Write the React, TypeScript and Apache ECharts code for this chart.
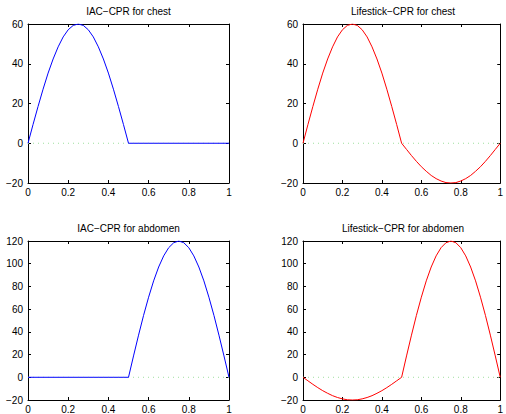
import React, { useEffect, useRef } from "react";
import * as echarts from "echarts";

const titles = [
  "IAC−CPR for chest",
  "Lifestick−CPR for chest",
  "IAC−CPR for abdomen",
  "Lifestick−CPR for abdomen",
];

const times = [
  0, 0.025, 0.05, 0.075, 0.1, 0.125, 0.15, 0.175, 0.2, 0.225, 0.25, 0.275, 0.3, 0.325, 0.35, 0.375, 0.4,
  0.425, 0.45, 0.475, 0.5, 0.525, 0.55, 0.575, 0.6, 0.625, 0.65, 0.675, 0.7, 0.725, 0.75, 0.775, 0.8,
  0.825, 0.85, 0.875, 0.9, 0.925, 0.95, 0.975, 1,
];

const chestIAC = [
  0, 9.4, 18.5, 27.2, 35.3, 42.4, 48.5, 53.5, 57.1, 59.3, 60, 59.3, 57.1, 53.5, 48.5, 42.4, 35.3, 27.2,
  18.5, 9.4, 0, 0, 0, 0, 0, 0, 0, 0, 0, 0, 0, 0, 0, 0, 0, 0, 0, 0, 0, 0, 0,
];

const chestLifestick = [
  0, 9.4, 18.5, 27.2, 35.3, 42.4, 48.5, 53.5, 57.1, 59.3, 60, 59.3, 57.1, 53.5, 48.5, 42.4, 35.3, 27.2,
  18.5, 9.4, 0, -3.1, -6.2, -9.1, -11.8, -14.1, -16.2, -17.8, -19.0, -19.8, -20, -19.8, -19.0, -17.8,
  -16.2, -14.1, -11.8, -9.1, -6.2, -3.1, 0,
];

const abdomenIAC = [
  0, 0, 0, 0, 0, 0, 0, 0, 0, 0, 0, 0, 0, 0, 0, 0, 0, 0, 0, 0, 0, 18.8, 37.1, 54.5, 70.5, 84.9, 97.1,
  106.9, 114.1, 118.5, 120, 118.5, 114.1, 106.9, 97.1, 84.9, 70.5, 54.5, 37.1, 18.8, 0,
];

const abdomenLifestick = [
  0, -3.1, -6.2, -9.1, -11.8, -14.1, -16.2, -17.8, -19.0, -19.8, -20, -19.8, -19.0, -17.8, -16.2, -14.1,
  -11.8, -9.1, -6.2, -3.1, 0, 18.8, 37.1, 54.5, 70.5, 84.9, 97.1, 106.9, 114.1, 118.5, 120, 118.5, 114.1,
  106.9, 97.1, 84.9, 70.5, 54.5, 37.1, 18.8, 0,
];

const seriesValues = [chestIAC, chestLifestick, abdomenIAC, abdomenLifestick];
const seriesColors = ["#0000ff", "#ff0000", "#0000ff", "#ff0000"];
const yRanges = [
  [-20, 60],
  [-20, 60],
  [-20, 120],
  [-20, 120],
];
const zeroLine = [0, 0];
const zeroLineX = [0, 1];

const FONT = "'Liberation Sans', Arial, Helvetica, sans-serif";

export default function App() {
  const ref = useRef<HTMLDivElement>(null);
  useEffect(() => {
    const chart = echarts.init(ref.current!, null, { renderer: "svg" });
    const grids = [
      { left: 28, top: 24, width: 201, height: 159 },
      { left: 303, top: 24, width: 200, height: 159 },
      { left: 28, top: 241, width: 201, height: 159 },
      { left: 303, top: 241, width: 200, height: 159 },
    ];
    const titleTops = [6, 6, 223, 223];
    const fmt = (v: number) => String(v).replace("-", "−");
    const axisLine = { show: true, onZero: false, lineStyle: { color: "#000", width: 1 } };
    const tick = { show: true, inside: true, length: 3, lineStyle: { color: "#000", width: 1 } };
    const label = { color: "#000", fontSize: 10, fontFamily: FONT };
    const xAxis: any[] = [];
    const yAxis: any[] = [];
    const series: any[] = [];
    grids.forEach((g, i) => {
      xAxis.push({
        type: "value", gridIndex: i, position: "bottom", min: 0, max: 1, interval: 0.2,
        axisLine, axisTick: tick, splitLine: { show: false },
        axisLabel: { ...label, margin: 4, formatter: fmt, showMinLabel: true, showMaxLabel: true },
      });
      xAxis.push({
        type: "value", gridIndex: i, position: "top", min: 0, max: 1, interval: 0.2,
        axisLine, axisTick: tick, splitLine: { show: false }, axisLabel: { show: false },
      });
      yAxis.push({
        type: "value", gridIndex: i, position: "left", min: yRanges[i][0], max: yRanges[i][1], interval: 20,
        axisLine, axisTick: tick, splitLine: { show: false },
        axisLabel: { ...label, margin: 5, formatter: fmt, showMinLabel: true, showMaxLabel: true },
      });
      yAxis.push({
        type: "value", gridIndex: i, position: "right", min: yRanges[i][0], max: yRanges[i][1], interval: 20,
        axisLine, axisTick: tick, splitLine: { show: false }, axisLabel: { show: false },
      });
      series.push({
        type: "line", xAxisIndex: i * 2, yAxisIndex: i * 2, showSymbol: false, silent: true,
        data: zeroLineX.map((x, k) => [x, zeroLine[k]]),
        lineStyle: { color: "#9fe09f", width: 1, type: [1, 4] },
        z: 1,
      });
      series.push({
        type: "line", xAxisIndex: i * 2, yAxisIndex: i * 2, showSymbol: false,
        data: times.map((t, k) => [t, seriesValues[i][k]]),
        lineStyle: { color: seriesColors[i], width: 1 },
        itemStyle: { color: seriesColors[i] },
        z: 2,
      });
    });
    chart.setOption({
      animation: false,
      backgroundColor: "#fff",
      title: grids.map((g, i) => ({
        text: titles[i],
        left: g.left + g.width / 2,
        top: titleTops[i],
        textAlign: "center",
        padding: 0,
        textStyle: { fontSize: 10, fontWeight: "normal", color: "#000", fontFamily: FONT },
      })),
      grid: grids,
      xAxis,
      yAxis,
      series,
    });
    return () => chart.dispose();
  }, []);
  return (
    <div
      ref={ref}
      style={{ position: "fixed", left: 0, top: 0, width: 506, height: 414 }}
    />
  );
}
